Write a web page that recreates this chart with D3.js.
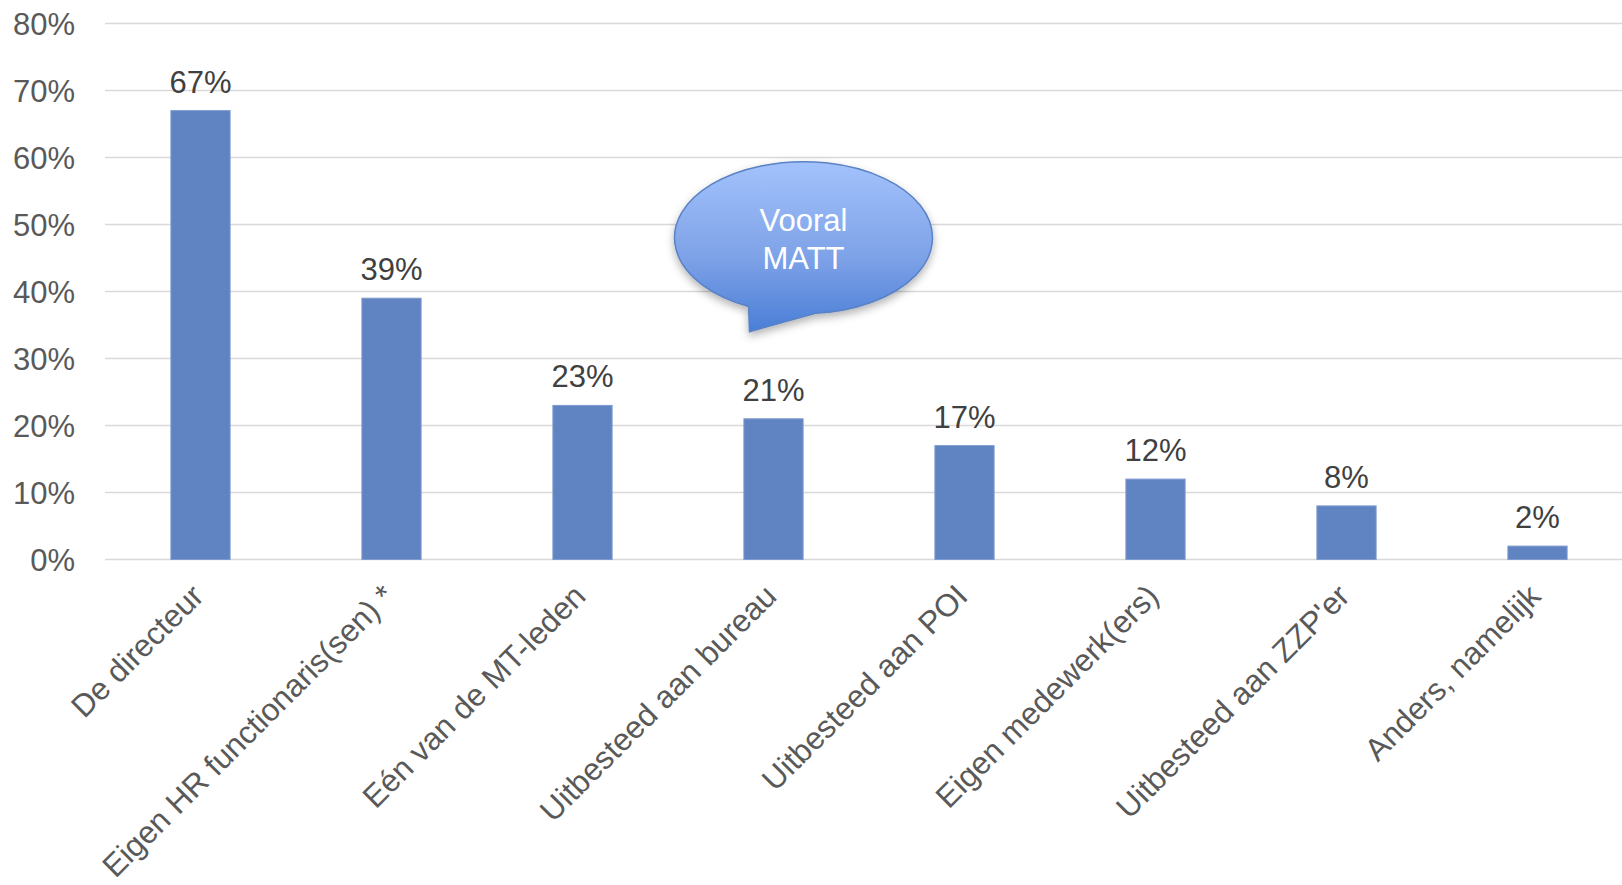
<!DOCTYPE html>
<html>
<head>
<meta charset="utf-8">
<script src="https://cdn.jsdelivr.net/npm/d3@7"></script>
<style>
  body { margin: 0; background: #fff; }
  svg { display: block; font-family: "Liberation Sans", Arial, sans-serif; }
</style>
</head>
<body>
<script>
const width = 1622;
const height = 885;

// data
const categories = [
    "De directeur",
    "Eigen HR functionaris(sen) *",
    "Eén van de MT-leden",
    "Uitbesteed aan bureau",
    "Uitbesteed aan POI",
    "Eigen medewerk(ers)",
    "Uitbesteed aan ZZP'er",
    "Anders, namelijk"
];
const values = [67, 39, 23, 21, 17, 12, 8, 2];
const yTicks = [0, 10, 20, 30, 40, 50, 60, 70, 80];
const calloutLines = ["Vooral", "MATT"];
const calloutCategory = "Uitbesteed aan bureau";
const calloutValue = 34; // where the tail points

const svg = d3.select("body")
    .append("svg")
    .attr("width", width)
    .attr("height", height);

const x = d3.scaleBand()
    .domain(categories)
    .range([105, 1633])
    .paddingInner(0.69)
    .paddingOuter(0.345);

const y = d3.scaleLinear()
    .domain([0, 80])
    .range([559.5, 23.5]);

// gridlines
svg.append("g")
    .selectAll("line")
    .data(yTicks)
    .enter()
    .append("line")
    .attr("x1", 105)
    .attr("x2", width)
    .attr("y1", d => y(d))
    .attr("y2", d => y(d))
    .attr("stroke", "#d9d9d9")
    .attr("stroke-width", 1.5);

// y axis labels
const yAxis = d3.axisLeft(y)
    .tickValues(yTicks)
    .tickFormat(d => d + "%")
    .tickSize(0)
    .tickPadding(0);

svg.append("g")
    .attr("transform", "translate(75,0)")
    .call(yAxis)
    .call(g => g.select(".domain").remove())
    .selectAll("text")
    .attr("font-size", 31)
    .attr("font-family", "Liberation Sans, Arial, sans-serif")
    .attr("fill", "#595959")
    .attr("dy", "0.36em");

// bars
svg.append("g")
    .selectAll("rect")
    .data(values)
    .enter()
    .append("rect")
    .attr("x", (d, i) => x(categories[i]))
    .attr("y", d => y(d))
    .attr("width", x.bandwidth())
    .attr("height", d => y(0) - y(d))
    .attr("fill", "#6083c2")
    .attr("stroke", "#7f9bd0")
    .attr("stroke-width", 1);

// value labels
svg.append("g")
    .selectAll("text")
    .data(values)
    .enter()
    .append("text")
    .attr("x", (d, i) => x(categories[i]) + x.bandwidth() / 2)
    .attr("y", d => y(d) - 18)
    .attr("text-anchor", "middle")
    .attr("font-size", 31)
    .attr("fill", "#404040")
    .text(d => d + "%");

// category labels, rotated
svg.append("g")
    .selectAll("text")
    .data(categories)
    .enter()
    .append("text")
    .attr("transform", d => `translate(${x(d) + x.bandwidth() / 2 + 5}, 598) rotate(-45)`)
    .attr("text-anchor", "end")
    .attr("font-size", 31.5)
    .attr("fill", "#595959")
    .text(d => d);

// speech bubble callout
const defs = svg.append("defs");
const grad = defs.append("linearGradient")
    .attr("id", "bubbleGrad")
    .attr("x1", 0).attr("y1", 0).attr("x2", 0).attr("y2", 1);
grad.append("stop").attr("offset", "0%").attr("stop-color", "#a3c2fc");
grad.append("stop").attr("offset", "55%").attr("stop-color", "#7fa3e8");
grad.append("stop").attr("offset", "100%").attr("stop-color", "#4a7ed6");

const shadow = defs.append("filter")
    .attr("id", "bubbleShadow")
    .attr("x", "-20%").attr("y", "-20%").attr("width", "140%").attr("height", "150%");
shadow.append("feDropShadow")
    .attr("dx", 0).attr("dy", 4)
    .attr("stdDeviation", 4)
    .attr("flood-color", "#000")
    .attr("flood-opacity", 0.3);

const tipX = x(calloutCategory) + x.bandwidth() / 2 - 24;
const tipY = y(calloutValue);
const cx = tipX + 54;
const cy = tipY - 94;
const rx = 129;
const ry = 76;

// ellipse + tail as one path
const a1 = Math.PI * 0.64;  // angle where tail starts (left side of bottom)
const a2 = Math.PI * 0.47;  // angle where tail ends
const p1 = [cx + rx * Math.cos(a1), cy + ry * Math.sin(a1)];
const p2 = [cx + rx * Math.cos(a2), cy + ry * Math.sin(a2)];
const bubblePath = `M${p2[0]},${p2[1]}
    A${rx},${ry} 0 1 0 ${p1[0]},${p1[1]}
    L${tipX},${tipY} Z`;

svg.append("path")
    .attr("d", bubblePath)
    .attr("fill", "url(#bubbleGrad)")
    .attr("stroke", "#5a82c4")
    .attr("stroke-width", 1.5)
    .attr("filter", "url(#bubbleShadow)");

svg.append("g")
    .selectAll("text")
    .data(calloutLines)
    .enter()
    .append("text")
    .attr("x", cx)
    .attr("y", (d, i) => cy - 7 + i * 38)
    .attr("text-anchor", "middle")
    .attr("font-size", 31)
    .attr("fill", "#ffffff")
    .text(d => d);
</script>
</body>
</html>
